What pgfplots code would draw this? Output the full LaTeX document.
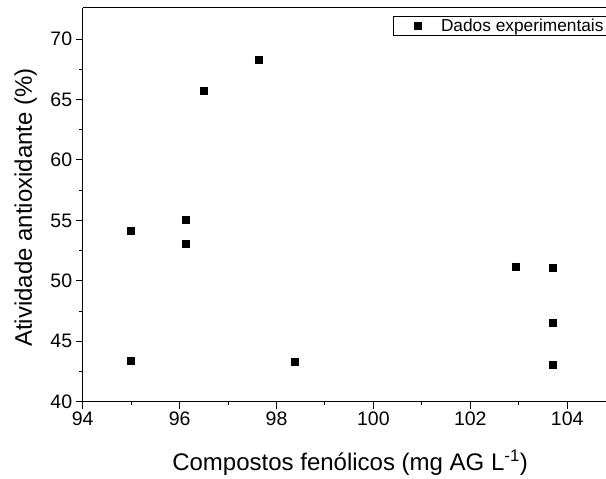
\documentclass[border=0pt]{standalone}
\usepackage{fontspec}
\setmainfont{Liberation Sans}
\usepackage{pgfplots}
\pgfplotsset{compat=1.18}
\begin{document}
\begin{tikzpicture}
\useasboundingbox (-82.7pt,-77.3pt) rectangle (523.3pt,401.7pt);
\begin{axis}[
  at={(0pt,0pt)}, anchor=south west,
  scale only axis, width=523.3pt, height=394pt,
  xmin=94, xmax=104.8, ymin=40, ymax=72.6,
  axis x line*=box, axis y line*=left,
  xtick={94,96,...,104}, minor x tick num=1,
  ytick={40,45,...,70}, minor y tick num=1,
  xtick pos=left, ytick pos=left,
  tick align=outside, major tick length=7pt, minor tick length=3.5pt,
  tick style={black, line width=1pt},
  axis line style={black, line width=1.5pt},
  tick label style={font=\fontsize{19.5}{21}\selectfont},
  /pgf/number format/assume math mode=true,
  xlabel={Compostos fenólicos (mg AG L\textsuperscript{-1})},
  ylabel={Atividade antioxidante (\%)},
  label style={font=\fontsize{24}{28}\selectfont},
  xlabel style={at={(rel axis cs:0.511,0)}, anchor=center, yshift=-61pt},
  ylabel style={at={(rel axis cs:0,0.493)}, anchor=center, yshift=57pt},
  legend image code/.code={
    \path[draw=none] (0pt,0pt) -- (43pt,0pt);
    \fill[black] (21.5pt,-3.5pt) rectangle (28.5pt,3.5pt);
  },
  legend style={at={(rel axis cs:0.5924,0.9797)}, anchor=north west,
    draw=black, line width=0.6pt, inner sep=0pt,
    nodes={inner ysep=2.5pt},
    font=\fontsize{17.3}{19}\selectfont, legend cell align=left},
]
\addplot[only marks, mark=square*, mark size=3.5pt, black] coordinates {
(95.0,54.15) (95.0,43.4) (96.13,55.1) (96.13,53.05) (96.5,65.7)
(97.64,68.3) (98.38,43.3) (102.94,51.2) (103.71,51.1) (103.71,46.5) (103.71,43.1)
};
\addlegendentry{\hspace*{3pt}Dados experimentais\hspace*{10pt}}
\end{axis}
\end{tikzpicture}
\end{document}
